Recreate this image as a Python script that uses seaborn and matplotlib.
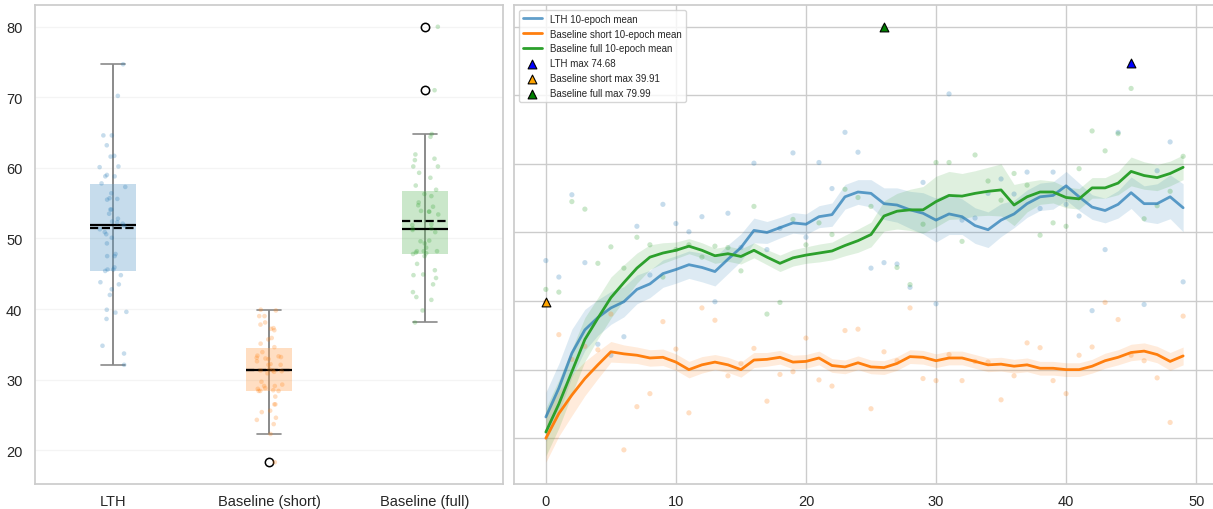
import numpy as np
import pandas as pd
import matplotlib
matplotlib.use("Agg")
import matplotlib.pyplot as plt
import matplotlib.cbook as cbook
import seaborn as sns
from matplotlib.lines import Line2D

epochs = list(range(50))

lth_acc = [45.9, 43.5, 55.5, 45.6, 33.7, 32.1, 34.8, 50.9, 43.8, 54.1,
           51.3, 50.1, 52.3, 39.9, 52.8, 47.8, 60.1, 47.5, 50.6, 61.6,
           49.3, 60.2, 56.4, 64.6, 61.7, 44.8, 45.6, 45.4, 42.0, 57.3,
           39.6, 70.2, 51.8, 52.1, 55.7, 57.8, 55.6, 58.8, 53.5, 58.8,
           54.1, 52.4, 38.6, 47.5, 64.6, 74.68, 39.5, 59.0, 63.2, 42.8]
short_acc = [39.91, 35.1, 31.5, 33.4, 32.9, 38.1, 18.3, 24.6, 26.5, 37.0,
             33.0, 23.7, 39.0, 37.2, 29.1, 30.9, 33.1, 25.4, 29.3, 29.7,
             34.6, 28.5, 27.6, 35.7, 35.9, 24.3, 32.6, 31.3, 39.0, 28.7,
             28.4, 32.2, 28.4, 31.2, 31.1, 25.6, 29.1, 33.9, 33.2, 28.4,
             26.5, 32.1, 33.3, 39.8, 37.3, 32.1, 31.3, 28.8, 22.3, 37.8]
full_acc = [41.7, 41.3, 54.5, 53.4, 45.5, 47.9, 44.8, 49.3, 48.2, 43.5,
            47.5, 48.2, 46.4, 48.0, 47.8, 44.4, 53.8, 38.1, 39.8, 51.9,
            48.2, 51.4, 49.7, 56.3, 55.1, 53.8, 79.99, 44.9, 42.4, 51.2,
            60.2, 60.2, 48.7, 61.3, 57.5, 54.7, 58.6, 56.9, 49.6, 51.4,
            50.9, 59.3, 64.8, 61.9, 64.4, 71.0, 52.0, 53.9, 56.0, 61.1]

lth_mean = [23.1, 27.3, 32.4, 35.8, 37.6, 39.0, 39.9, 41.7, 42.5, 44.0,
            44.6, 45.3, 44.9, 44.3, 46.1, 47.8, 50.3, 50.0, 50.7, 51.4,
            51.2, 52.3, 52.6, 55.2, 55.9, 55.7, 54.2, 54.0, 53.3, 52.8,
            51.8, 52.7, 52.3, 51.0, 50.4, 51.8, 52.7, 54.2, 55.2, 55.4,
            56.8, 55.2, 53.7, 53.2, 54.1, 55.8, 54.2, 54.2, 55.2, 53.6]
short_mean = [20.0, 23.6, 26.3, 28.7, 30.7, 32.6, 32.3, 32.1, 31.7, 31.8,
              31.1, 30.0, 30.7, 31.1, 30.7, 30.0, 31.4, 31.5, 31.8, 31.1,
              31.2, 31.7, 30.6, 30.4, 31.0, 30.4, 30.3, 30.9, 31.9, 31.8,
              31.3, 31.7, 31.7, 31.2, 30.7, 30.8, 30.5, 30.7, 30.2, 30.2,
              30.0, 30.0, 30.5, 31.3, 31.8, 32.5, 32.7, 32.2, 31.2, 32.0]
full_mean = [20.9, 25.0, 29.7, 34.4, 37.5, 40.5, 42.7, 44.8, 46.4, 47.0,
             47.4, 48.0, 47.4, 46.6, 46.9, 46.5, 47.4, 46.4, 45.5, 46.3,
             46.7, 47.0, 47.3, 48.1, 48.8, 49.7, 52.4, 53.1, 53.3, 53.3,
             54.5, 55.4, 55.3, 55.7, 56.0, 56.2, 54.0, 55.2, 55.9, 55.9,
             55.1, 54.9, 56.5, 56.5, 57.2, 58.9, 58.3, 58.0, 58.6, 59.5]

lth_band = [3.6, 3.6, 3.5, 3.0, 2.6, 2.4, 2.2, 2.1, 2.0, 2.0,
            2.0, 2.0, 2.1, 2.1, 2.1, 2.0, 1.8, 1.6, 1.5, 1.5,
            1.5, 1.6, 1.7, 1.8, 1.8, 2.0, 2.3, 2.5, 2.7, 3.0,
            3.2, 3.0, 2.6, 2.6, 2.6, 2.4, 2.0, 2.0, 2.0, 2.0,
            2.1, 2.0, 1.8, 1.8, 2.0, 2.3, 2.6, 2.9, 3.2, 3.5]
short_band = [3.5, 3.3, 3.0, 2.5, 2.0, 1.5, 1.3, 1.2, 1.2, 1.2,
              1.2, 1.2, 1.2, 1.1, 1.1, 1.1, 1.1, 1.0, 1.0, 1.0,
              1.0, 1.0, 1.0, 1.0, 1.0, 1.0, 1.0, 1.0, 1.0, 1.0,
              1.0, 1.0, 1.0, 1.0, 1.0, 1.0, 1.0, 1.0, 1.0, 1.0,
              1.0, 1.0, 1.0, 1.1, 1.1, 1.2, 1.2, 1.2, 1.3, 1.3]
full_band = [3.5, 3.5, 3.3, 3.2, 3.0, 3.0, 2.6, 2.2, 1.8, 1.5,
             1.2, 1.1, 1.1, 1.1, 1.1, 1.1, 1.1, 1.1, 1.2, 1.2,
             1.2, 1.3, 1.3, 1.5, 1.7, 1.8, 2.2, 2.6, 3.0, 3.4,
             3.7, 3.5, 3.3, 3.3, 3.5, 3.8, 3.0, 2.2, 1.8, 1.6,
             1.5, 1.5, 1.5, 1.5, 1.7, 2.1, 2.0, 1.9, 1.8, 1.8]

groups = ["LTH", "Baseline (short)", "Baseline (full)"]
series_names = ["LTH", "Baseline short", "Baseline full"]
colors = ["#1f77b4", "#ff7f0e", "#2ca02c"]
line_alphas = [0.7, 1.0, 1.0]
max_colors = ["blue", "orange", "green"]

sns.set_theme(style="whitegrid")
plt.rcParams["font.family"] = ["Liberation Sans", "DejaVu Sans"]

fig = plt.figure(figsize=(12.13, 5.10), dpi=100)
W, H = 1213, 510
ax1 = fig.add_axes([35 / W, 25 / H, 468 / W, 479 / H])
ax2 = fig.add_axes([514 / W, 25 / H, 701 / W, 479 / H])

accs = [lth_acc, short_acc, full_acc]
means = [lth_mean, short_mean, full_mean]
bands = [lth_band, short_band, full_band]

df = pd.DataFrame({
    "group": np.repeat(groups, 50),
    "acc": np.concatenate([np.asarray(a) for a in accs]),
})

# ---------- left: box + strip ----------
for i, a in enumerate(accs):
    st = cbook.boxplot_stats(np.asarray(a))[0]
    ax1.vlines(i, st["whislo"], st["whishi"], color="#8a8a8a", lw=1.2, zorder=1.5)

sns.boxplot(
    data=df, x="group", y="acc", hue="group", palette=colors, width=0.3,
    saturation=1, showmeans=True, meanline=True, legend=False, ax=ax1,
    boxprops=dict(alpha=0.25, edgecolor="none", linewidth=0),
    medianprops=dict(color="black", linewidth=1.6, alpha=1),
    meanprops=dict(color="black", linestyle="--", linewidth=1.6),
    whiskerprops=dict(color="#8a8a8a", linewidth=1.2),
    capprops=dict(color="#8a8a8a", linewidth=1.2),
    flierprops=dict(marker="o", markerfacecolor="none", markeredgecolor="black",
                    markersize=6, markeredgewidth=1.1),
)
np.random.seed(3)
sns.stripplot(data=df, x="group", y="acc", hue="group", palette=colors,
              alpha=0.25, size=3.3, jitter=0.09, legend=False, ax=ax1, zorder=3)
ax1.set_xlabel("")
ax1.set_ylabel("")
ax1.grid(axis="y", alpha=0.2)
ax1.tick_params(axis="x", labelsize=10.5, pad=1)
ax1.tick_params(axis="y", labelsize=10.5, pad=3)

# ---------- right: per-epoch ----------
handles = []
for a, m, b, c, la, name in zip(accs, means, bands, colors, line_alphas, series_names):
    a = np.asarray(a)
    m = np.asarray(m)
    b = np.asarray(b)
    ax2.scatter(epochs, a, color=c, alpha=0.25, s=14, edgecolors="none", zorder=2)
    ax2.fill_between(epochs, m - b, m + b, color=c, alpha=0.15, lw=0, zorder=1)
    sns.lineplot(x=epochs, y=m, color=c, alpha=la, lw=2, ax=ax2, zorder=3)
    handles.append(Line2D([], [], color=c, alpha=la, lw=2, label=f"{name} 10-epoch mean"))

for a, mc, name in zip(accs, max_colors, series_names):
    a = np.asarray(a)
    idx = int(np.argmax(a))
    h = ax2.scatter([epochs[idx]], [a[idx]], marker="^", s=40, color=mc,
                    edgecolors="black", linewidths=0.8, zorder=5,
                    label=f"{name} max {a[idx]:.2f}")
    handles.append(h)

ax2.tick_params(labelleft=False)
ax2.tick_params(axis="x", labelsize=10.5, pad=1)
ax2.legend(handles=handles, loc="upper left", fontsize=7, frameon=True)

fig.savefig("out.png", dpi=100)
